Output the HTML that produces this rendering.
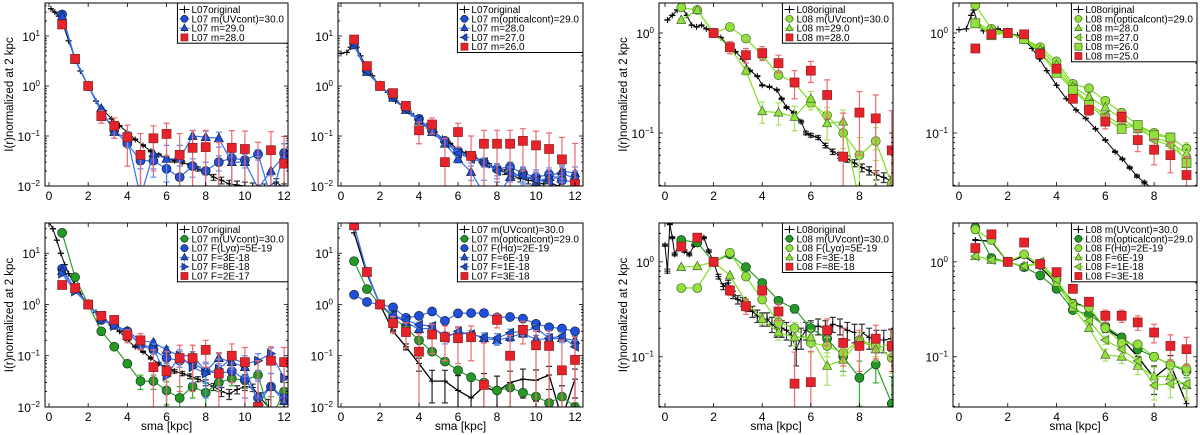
<!DOCTYPE html>
<html><head><meta charset="utf-8">
<style>
html,body{margin:0;padding:0;background:#fff;width:1200px;height:435px;overflow:hidden;}
svg{display:block;font-family:"Liberation Sans",sans-serif;}
</style></head>
<body>
<svg id="fig" width="1200" height="435" viewBox="0 0 1200 435"></svg>
<script>
// ---------- DATA ----------
const xs18 = [0.67,1.33,2,2.67,3.33,4,4.67,5.33,6,6.67,7.33,8,8.67,9.33,10,10.67,11.33,12];
const xs14 = [0.67,1.33,2,2.67,3.33,4,4.67,5.33,6,6.67,7.33,8,8.67,9.33];

// Panel 1 (L07 UV)
const p1OrigX = [0.1,0.3,0.5,0.7,1,1.33,1.6,2,2.4,2.8,3.2,3.6,4,4.4,4.8,5.2,5.6,6,6.4,6.8,7.2,7.6,8,8.4,8.8,9.2,9.6,10,10.4,11,11.6,12];
const p1OrigY = [35,30,25,18,8,3.5,2,1,0.5,0.32,0.22,0.16,0.12,0.085,0.065,0.05,0.042,0.036,0.032,0.03,0.026,0.022,0.019,0.015,0.013,0.011,0.0105,0.01,0.0095,0.009,0.012,0.009];
const p1UV  = [27,3.5,1,0.3,0.13,0.07,0.032,0.032,0.022,0.015,0.025,0.02,0.03,0.036,0.033,0.043,0.006,0.045];
const p1M29 = [25,3.3,1,0.35,0.12,0.09,0.006,0.045,0.035,0.035,0.1,0.095,0.09,0.03,0.03,0.009,0.02,0.04];
const p1M28 = [17,3.5,1,0.25,0.16,0.095,0.042,0.09,0.11,0.042,0.058,0.06,0.005,0.058,0.055,0.005,0.052,0.028];

// Panel 2 (L07 optical)
const p2OrigX = [0,0.3,0.5,0.6,0.8,1,1.33,1.6,2,2.4,2.8,3.2,3.6,4,4.4,4.8,5.2,5.6,6,6.4,6.8,7.2,7.6,8,8.4,8.8,9.2,9.6,10,10.4,10.8,11.2,12];
const p2OrigY = [4.5,4.7,6,9,6,4,2.3,1.6,1,0.75,0.5,0.37,0.28,0.2,0.16,0.12,0.09,0.07,0.055,0.045,0.04,0.032,0.026,0.022,0.019,0.016,0.014,0.013,0.012,0.011,0.011,0.01,0.01];
const p2M29 = [7,2,1,0.6,0.35,0.22,0.13,0.08,0.05,0.04,0.03,0.022,0.024,0.018,0.015,0.017,0.013,0.012];
const p2M28 = [6.5,1.9,1,0.58,0.33,0.2,0.12,0.07,0.035,0.019,0.007,0.006,0.015,0.017,0.012,0.015,0.02,0.018];
const p2M27 = [7,2,1,0.62,0.34,0.21,0.12,0.075,0.045,0.035,0.03,0.02,0.018,0.016,0.013,0.012,0.018,0.014];
const p2M26 = [8.5,2.5,1,0.72,0.4,0.13,0.17,0.03,0.12,0.04,0.07,0.07,0.07,0.08,0.065,0.055,0.034,0.011];

// Panel 3 (L08 UV)
const p3OrigX = [0.1,0.3,0.5,0.7,0.9,1.1,1.3,1.5,1.7,2,2.3,2.6,2.9,3.2,3.5,3.8,4,4.3,4.6,4.8,5,5.3,5.6,5.8,6,6.3,6.6,6.9,7.2,7.5,7.8,8.1,8.4,8.7,9,9.3,9.6];
const p3OrigY = [1.35,1.5,1.7,1.8,1.5,1.2,1.15,1.2,1.1,1,0.9,0.75,0.65,0.55,0.42,0.37,0.3,0.29,0.27,0.22,0.18,0.16,0.13,0.1,0.095,0.09,0.075,0.065,0.06,0.055,0.05,0.045,0.042,0.038,0.036,0.033,0.03];
const p3UV  = [1.8,1.7,1,1.15,0.88,0.6,0.38,0.32,0.2,0.15,0.1,0.06,0.083,0.031];
const p3M29 = [1.35,1.7,1,0.72,0.42,0.165,0.16,0.145,0.22,0.125,0.13,0.02,0.028,0.03];
const p3M28 = [null,null,1,0.72,0.6,0.63,0.5,0.32,0.42,0.24,0.058,0.16,0.14,0.067];

// Panel 4 (L08 optical)
const p4OrigX = [0,0.3,0.5,0.6,0.8,1,1.3,1.6,2,2.4,2.7,3,3.3,3.6,4,4.4,4.8,5.2,5.6,6,6.4,6.7,7,7.3,7.6,8,8.4,8.8,9.6];
const p4OrigY = [1.08,1.1,1.5,1.7,1.2,1.05,1.08,1.1,1,0.95,0.85,0.7,0.55,0.42,0.3,0.22,0.17,0.14,0.11,0.085,0.065,0.055,0.045,0.037,0.032,0.027,0.023,0.02,0.017];
const p4M29 = [1.9,1.1,1,0.88,0.72,0.52,0.31,0.28,0.21,0.16,0.12,0.1,0.09,0.07];
const p4M28 = [1.3,1.05,1,0.88,0.68,0.48,0.29,0.23,0.18,0.14,0.11,0.09,0.08,0.062];
const p4M27 = [1.25,1.0,1,0.86,0.65,0.43,0.28,0.2,0.15,0.12,0.12,0.085,0.075,0.055];
const p4M26 = [1.25,0.95,1,0.87,0.63,0.4,0.27,0.19,0.14,0.11,0.12,0.095,0.09,0.05];
const p4M25 = [0.7,0.97,1,0.97,0.62,0.44,0.22,0.17,0.13,0.145,0.085,0.068,0.06,0.038];

// Panel 5 (L07 Lya)
const p5OrigX = [0,0.2,0.4,0.6,0.8,1,1.3,1.6,2,2.4,2.8,3.2,3.6,4,4.4,4.8,5.2,5.6,6,6.4,6.8,7.2,7.6,8,8.4,8.8,9.2,9.6,10,10.4,10.8,11.2];
const p5OrigY = [40,30,18,10,6,4,2.5,1.6,1,0.7,0.5,0.4,0.3,0.2,0.15,0.12,0.09,0.07,0.06,0.05,0.045,0.04,0.035,0.03,0.025,0.02,0.018,0.022,0.025,0.024,0.015,0.01];
const p5UV   = [25,3.4,1,0.3,0.15,0.07,0.032,0.032,0.021,0.015,0.025,0.019,0.03,0.036,0.033,0.042,0.006,0.02];
const p5F5   = [5,2,1,0.5,0.4,0.3,0.16,0.13,0.09,0.08,0.075,0.05,0.045,0.05,0.035,0.015,0.025,0.015];
const p5F3   = [4.5,2,1,0.55,0.4,0.3,0.2,0.18,0.13,0.1,0.1,0.05,0.09,0.075,0.06,0.012,0.025,0.013];
const p5F8   = [4,1.8,1,0.5,0.38,0.28,0.17,0.14,0.04,0.1,0.06,0.045,0.055,0.09,0.07,0.08,0.11,0.037];
const p5F2   = [2.4,2.1,1,0.6,0.5,0.25,0.2,0.06,0.05,0.09,0.09,0.13,0.045,0.1,0.075,0.01,0.08,0.075];

// Panel 6 (L07 Halpha)
const p6UV   = [25,4,1,0.3,0.15,0.07,0.032,0.032,0.021,0.015,0.025,0.02,0.03,0.035,0.033,0.042,0.006,0.035];
const p6Opt  = [7,2,1,0.55,0.35,0.2,0.12,0.077,0.052,0.038,0.03,0.021,0.024,0.019,0.016,0.012,0.016,0.01];
const p6F2   = [1.55,1.12,1,0.88,0.55,0.6,0.73,0.48,0.67,0.68,0.68,0.56,0.57,0.53,0.42,0.36,0.34,0.3];
const p6F6   = [35,4.3,1,0.62,0.45,0.33,0.35,0.25,0.27,0.27,0.22,0.2,0.23,0.27,0.21,0.21,0.22,0.2];
const p6F1   = [35,4.3,1,0.62,0.5,0.4,0.38,0.22,0.3,0.26,0.23,0.22,0.28,0.3,0.35,0.22,0.24,0.15];
const p6F3   = [35,4.3,1,0.43,0.29,0.12,0.26,0.23,0.22,0.23,0.027,0.5,0.1,0.32,0.16,0.155,0.052,0.083];

// Panel 7 (L08 Lya)
const p7OrigX = [0,0.1,0.2,0.3,0.4,0.6,0.8,1,1.2,1.4,1.6,1.8,2,2.2,2.4,2.6,2.8,3,3.2,3.4,3.6,3.8,4,4.2,4.4,4.6,4.8,5,5.2,5.4,5.6,5.8,6,6.3,6.6,6.9,7.2,7.5,7.8,8.1,8.4,8.7,9,9.3,9.6];
const p7OrigY = [1.5,0.8,2.5,1.8,1.2,1.6,1.3,1.2,1.5,1.6,1.8,1.3,1,0.7,0.55,0.6,0.45,0.4,0.38,0.34,0.3,0.27,0.25,0.25,0.22,0.2,0.2,0.19,0.17,0.12,0.16,0.19,0.2,0.21,0.2,0.22,0.21,0.19,0.18,0.18,0.16,0.15,0.15,0.155,0.15];
const p7UV  = [1.7,1.6,1,1.2,0.88,0.6,0.39,0.32,0.2,0.155,0.1,0.06,0.083,0.032];
const p7F5  = [0.53,0.53,1,1.25,0.7,0.4,0.23,0.2,0.14,0.13,0.11,0.15,0.13,0.097];
const p7F3  = [0.88,0.9,1,0.72,0.38,0.25,0.18,0.16,0.16,0.08,0.093,0.15,0.12,0.14];
const p7F8  = [1.45,1.8,1,0.5,0.34,0.5,0.3,0.052,0.054,0.19,0.14,0.13,0.155,0.13];

// Panel 8 (L08 Halpha)
const p8UV  = [1.7,1.65,1,1.15,0.88,0.6,0.38,0.32,0.2,0.155,0.1,0.06,0.083,0.032];
const p8Opt = [2.3,1.1,1,0.88,0.72,0.52,0.31,0.28,0.21,0.16,0.12,0.1,0.083,0.07];
const p8F2  = [2.2,1.7,1,1.2,0.93,0.65,0.36,0.33,0.2,0.14,0.135,0.1,0.082,0.075];
const p8F6  = [1.15,1.05,1,0.9,0.95,0.6,0.33,0.2,0.105,0.1,0.08,0.062,0.062,0.05];
const p8F1  = [1.15,1.05,1,0.9,1.0,0.65,0.35,0.24,0.15,0.12,0.09,0.05,0.052,0.052];
const p8F3  = [1.4,1.95,1,1.6,0.95,0.78,0.52,0.38,0.27,0.27,0.23,0.18,0.13,0.12];

const ticksL07 = [0,2,4,6,8,10,12];
const ticksL08 = [0,2,4,6,8];

// ---------- STYLES ----------
const BLUE='#1f4fdc', BLUEL='#3a6ef0', RED='#e8222a', REDE='#ee6a70', LG='#93e03a', LGL='#7ee020', DG='#249a24', BLK='#000';

const svg=document.getElementById('fig');
const NS='http://www.w3.org/2000/svg';
function el(tag,attrs,parent){const e=document.createElementNS(NS,tag);for(const k in attrs)e.setAttribute(k,attrs[k]);(parent||svg).appendChild(e);return e;}

function marker(g,type,cx,cy,fill,stroke,r){
  r=r||4.5;
  let m;
  if(type==='o') m=el('circle',{cx:cx,cy:cy,r:r,fill:fill,stroke:stroke,'stroke-width':0.7},g);
  else if(type==='s') m=el('rect',{x:cx-r,y:cy-r,width:2*r,height:2*r,fill:fill,stroke:stroke,'stroke-width':0.7},g);
  else if(type==='^') m=el('polygon',{points:`${cx},${cy-r-0.5} ${cx-r},${cy+r-1} ${cx+r},${cy+r-1}`,fill:fill,stroke:stroke,'stroke-width':0.7},g);
  else if(type==='<') m=el('polygon',{points:`${cx-r},${cy} ${cx+r-1},${cy-r} ${cx+r-1},${cy+r}`,fill:fill,stroke:stroke,'stroke-width':0.7},g);
  else if(type==='>') m=el('polygon',{points:`${cx+r},${cy} ${cx-r+1},${cy-r} ${cx-r+1},${cy+r}`,fill:fill,stroke:stroke,'stroke-width':0.7},g);
  else if(type==='+'){ m=el('path',{d:`M${cx-3},${cy}H${cx+3}M${cx},${cy-3}V${cy+3}`,stroke:fill,'stroke-width':1},g);}
  return m;
}

function panel(cfg){
  const g=el('g',{});
  
  
  const {L,R,T,B,x0,x1,y0,y1}=cfg;
  const sx=v=>L+(v-x0)/(x1-x0)*(R-L);
  const syRaw=v=>B-(Math.log10(v)-y0)/(y1-y0)*(B-T);
  const sy=v=>Math.max(T-8,Math.min(B+6,syRaw(v)));
  const clip='c'+cfg.name;
  const d=el('defs',{},g); const cp=el('clipPath',{id:clip},d); el('rect',{x:L,y:T,width:R-L,height:B-T},cp);
  const plot=el('g',{'clip-path':`url(#${clip})`},g);
  cfg.series.forEach(s=>{
    const sg=el('g',{},plot);
    
    
    const X=s.x, Y=s.y;
    if(s.sig){
      X.forEach((xv,i)=>{const yv=Y[i]; if(yv==null)return;
        const hi=yv+s.sig, lo=yv-s.sig;
        const y1p=sy(hi), y2p=lo>0?sy(lo):B+1; const cx=sx(xv);
        el('path',{d:`M${cx},${y1p}V${y2p}M${cx-3},${y1p}H${cx+3}M${cx-3},${y2p}H${cx+3}`,stroke:s.ec,'stroke-width':1.2},sg);
      });
    }
    if(s.line){
      let pts=[];X.forEach((xv,i)=>{if(Y[i]!=null)pts.push(sx(xv).toFixed(1)+','+syRaw(Y[i]).toFixed(1));});
      el('polyline',{points:pts.join(' '),fill:'none',stroke:s.lc,'stroke-width':s.lw||1.2},sg);
    }
    X.forEach((xv,i)=>{if(Y[i]==null)return; const yy=syRaw(Y[i]); if(yy>B+6||yy<T-8)return; marker(sg,s.m,sx(xv),yy,s.fc,s.mec||'#222',s.r);});
  });
  el('rect',{x:L,y:T,width:R-L,height:B-T,fill:'none',stroke:'#000','stroke-width':1},g);
  cfg.xt.forEach(t=>{const x=sx(t);
    el('path',{d:`M${x},${B}V${B-4}M${x},${T}V${T+4}`,stroke:'#000','stroke-width':0.8},g);
    const tx=el('text',{x:x,y:B+14,'font-size':12,'text-anchor':'middle',fill:'#000'},g);tx.textContent=t;
    
  });
  for(let e=Math.floor(cfg.y0);e<=Math.ceil(cfg.y1);e++){
    for(let k=1;k<10;k++){const v=Math.log10(k)+e; if(v<cfg.y0-1e-6||v>cfg.y1+1e-6)continue;
      const y=syRaw(Math.pow(10,v)); const len=k===1?4:2;
      el('path',{d:`M${L},${y}H${L+len}M${R},${y}H${R-len}`,stroke:'#000','stroke-width':0.8},g);
      if(k===1){const tx=el('text',{x:L-5,y:y+5,'font-size':12,'text-anchor':'end',fill:'#000'},g);
        
        const a=el('tspan',{},tx);a.textContent='10';const b=el('tspan',{dy:-5,'font-size':8},tx);b.textContent=String(e).replace('-','\u2212');}
    }
  }
  if(cfg.ylab){const tx=el('text',{x:0,y:0,'font-size':11.5,'text-anchor':'middle',transform:`translate(${cfg.ylabX},${(T+B)/2}) rotate(-90)`},g);tx.textContent='I(r)normalized at 2 kpc';
    }
  if(cfg.xlab){const tx=el('text',{x:(L+R)/2,y:B+23,'font-size':12,'text-anchor':'middle'},g);tx.textContent='sma [kpc]';
    }
  const lg=el('g',{},g);
  
  
  const box=el('rect',{x:0,y:T,width:10,height:cfg.series.length*9.3+3,fill:'#fff',stroke:'#000','stroke-width':1},lg);
  let maxw=0; const items=[];
  cfg.series.forEach((s,i)=>{const it=el('g',{},lg);
    
    
    const t=el('text',{x:0,y:T+10+i*9.3,'font-size':10,fill:'#000'},it);t.textContent=s.label;
    maxw=Math.max(maxw,t.getComputedTextLength());items.push([it,t,s,i]);});
  const bx=R-maxw-18;
  box.setAttribute('x',bx);box.setAttribute('width',R-bx);
  items.forEach(([it,t,s,i])=>{t.setAttribute('x',bx+14);const cy=T+6.5+i*9.3;
    if(s.line) el('path',{d:`M${bx+2},${cy}H${bx+12}`,stroke:s.lc,'stroke-width':1},it);
    if(s.sig) el('path',{d:`M${bx+7},${cy-4}V${cy+4}`,stroke:s.ec,'stroke-width':1},it);
    marker(it,s.m,bx+7,cy,s.fc,s.mec||'#222',3.5);});
}

function orig(x,y,lab,sig){return {dn:'series-original',label:lab,x:x,y:y,m:'+',fc:BLK,line:true,lc:BLK,lw:1,sig:sig,ec:'#333'};}
const colStd=[-0.204,12.2], colL08=[-0.246,9.38], colL08b=[-0.246,9.76];

panel({name:'panel-l07-uv',L:45,R:288,T:3,B:186,x0:colStd[0],x1:colStd[1],y0:-2,y1:1.66,xt:ticksL07,ylab:true,ylabX:13,series:[
  orig(p1OrigX,p1OrigY,'L07original',0.002),
  {dn:'series-uvcont',label:'L07 m(UVcont)=30.0',x:xs18,y:p1UV,m:'o',fc:BLUE,mec:'#123',line:true,lc:BLUEL,sig:0.01,ec:'#5a8af0'},
  {dn:'series-m29',label:'L07 m=29.0',x:xs18,y:p1M29,m:'^',fc:BLUE,mec:'#123',line:true,lc:BLUEL,sig:0.03,ec:'#5a8af0'},
  {dn:'series-m28',label:'L07 m=28.0',x:xs18,y:p1M28,m:'s',fc:RED,mec:'#822',line:false,sig:0.07,ec:REDE}]});

panel({name:'panel-l07-optical',L:338,R:583,T:3,B:186,x0:-0.154,x1:12.41,y0:-2,y1:1.66,xt:ticksL07,series:[
  orig(p2OrigX,p2OrigY,'L07original',0.002),
  {dn:'series-opticalcont',label:'L07 m(opticalcont)=29.0',x:xs18,y:p2M29,m:'o',fc:BLUE,mec:'#123',line:true,lc:BLUEL,sig:0.006,ec:'#5a8af0'},
  {dn:'series-m28',label:'L07 m=28.0',x:xs18,y:p2M28,m:'^',fc:BLUE,mec:'#123',line:true,lc:BLUEL,sig:0.006,ec:'#5a8af0'},
  {dn:'series-m27',label:'L07 m=27.0',x:xs18,y:p2M27,m:'<',fc:BLUE,mec:'#123',line:true,lc:BLUEL,sig:0.006,ec:'#5a8af0'},
  {dn:'series-m26',label:'L07 m=26.0',x:xs18,y:p2M26,m:'s',fc:RED,mec:'#822',line:false,sig:0.06,ec:REDE}]});

panel({name:'panel-l08-uv',L:659,R:893,T:3,B:186,x0:colL08[0],x1:colL08[1],y0:-1.53,y1:0.3,xt:ticksL08,ylab:true,ylabX:627,series:[
  orig(p3OrigX,p3OrigY,'L08original',0.004),
  {dn:'series-uvcont',label:'L08 m(UVcont)=30.0',x:xs14,y:p3UV,m:'o',fc:LG,mec:'#463',line:true,lc:LGL,sig:0.03,ec:'#a8e060'},
  {dn:'series-m29',label:'L08 m=29.0',x:xs14,y:p3M29,m:'^',fc:LG,mec:'#463',line:true,lc:LGL,sig:0.04,ec:'#a8e060'},
  {dn:'series-m28',label:'L08 m=28.0',x:xs14,y:p3M28,m:'s',fc:RED,mec:'#822',line:false,sig:0.1,ec:REDE}]});

panel({name:'panel-l08-optical',L:953,R:1197,T:3,B:186,x0:colL08b[0],x1:colL08b[1],y0:-1.53,y1:0.3,xt:ticksL08,series:[
  orig(p4OrigX,p4OrigY,'L08original',0.001),
  {dn:'series-opticalcont',label:'L08 m(opticalcont)=29.0',x:xs14,y:p4M29,m:'o',fc:LG,mec:'#463',line:true,lc:LGL,sig:0.01,ec:'#a8e060'},
  {dn:'series-m28',label:'L08 m=28.0',x:xs14,y:p4M28,m:'^',fc:LG,mec:'#463',line:true,lc:LGL,sig:0.01,ec:'#a8e060'},
  {dn:'series-m27',label:'L08 m=27.0',x:xs14,y:p4M27,m:'<',fc:LG,mec:'#463',line:true,lc:LGL,sig:0.01,ec:'#a8e060'},
  {dn:'series-m26',label:'L08 m=26.0',x:xs14,y:p4M26,m:'s',fc:LG,mec:'#463',line:true,lc:LGL,sig:0.01,ec:'#a8e060'},
  {dn:'series-m25',label:'L08 m=25.0',x:xs14,y:p4M25,m:'s',fc:RED,mec:'#822',line:false,sig:0.02,ec:REDE}]});

panel({name:'panel-l07-lya',L:45,R:288,T:223,B:407,x0:colStd[0],x1:colStd[1],y0:-2,y1:1.59,xt:ticksL07,ylab:true,ylabX:13,xlab:true,series:[
  orig(p5OrigX,p5OrigY,'L07original',0.004),
  {dn:'series-uvcont',label:'L07 m(UVcont)=30.0',x:xs18,y:p5UV,m:'o',fc:DG,mec:'#132',line:true,lc:'#2aa02a',sig:0.01,ec:'#3aaa3a'},
  {dn:'series-lya-5e-19',label:'L07 F(Ly\u03b1)=5E-19',x:xs18,y:p5F5,m:'o',fc:BLUE,mec:'#123',line:true,lc:BLUEL,sig:0.02,ec:'#5a8af0'},
  {dn:'series-f-3e-18',label:'L07 F=3E-18',x:xs18,y:p5F3,m:'^',fc:BLUE,mec:'#123',line:true,lc:BLUEL,sig:0.02,ec:'#5a8af0'},
  {dn:'series-f-8e-18',label:'L07 F=8E-18',x:xs18,y:p5F8,m:'>',fc:BLUE,mec:'#123',line:true,lc:BLUEL,sig:0.03,ec:'#5a8af0'},
  {dn:'series-f-2e-17',label:'L07 F=2E-17',x:xs18,y:p5F2,m:'s',fc:RED,mec:'#822',line:false,sig:0.07,ec:REDE}]});

panel({name:'panel-l07-halpha',L:338,R:583,T:223,B:407,x0:-0.154,x1:12.41,y0:-2,y1:1.59,xt:ticksL07,xlab:true,series:[
  {dn:'series-uvcont',label:'L07 m(UVcont)=30.0',x:xs18,y:p6UV,m:'+',fc:BLK,line:true,lc:BLK,lw:1.3,sig:0.02,ec:'#222'},
  {dn:'series-opticalcont',label:'L07 m(opticalcont)=29.0',x:xs18,y:p6Opt,m:'o',fc:DG,mec:'#132',line:true,lc:'#2aa02a',sig:0.002,ec:'#3aaa3a'},
  {dn:'series-halpha-2e-19',label:'L07 F(H\u03b1)=2E-19',x:xs18,y:p6F2,m:'o',fc:BLUE,mec:'#123',line:true,lc:BLUEL,sig:0.03,ec:'#5a8af0'},
  {dn:'series-f-6e-19',label:'L07 F=6E-19',x:xs18,y:p6F6,m:'^',fc:BLUE,mec:'#123',line:true,lc:BLUEL,sig:0.04,ec:'#5a8af0'},
  {dn:'series-f-1e-18',label:'L07 F=1E-18',x:xs18,y:p6F1,m:'<',fc:BLUE,mec:'#123',line:true,lc:BLUEL,sig:0.05,ec:'#5a8af0'},
  {dn:'series-f-3e-18',label:'L07 F=3E-18',x:xs18,y:p6F3,m:'s',fc:RED,mec:'#822',line:false,sig:0.15,ec:REDE}]});

panel({name:'panel-l08-lya',L:659,R:893,T:223,B:407,x0:colL08[0],x1:colL08[1],y0:-1.53,y1:0.41,xt:ticksL08,ylab:true,ylabX:627,xlab:true,series:[
  orig(p7OrigX,p7OrigY,'L08original',0.04),
  {dn:'series-uvcont',label:'L08 m(UVcont)=30.0',x:xs14,y:p7UV,m:'o',fc:DG,mec:'#132',line:true,lc:'#2aa02a',sig:0.03,ec:'#3aaa3a'},
  {dn:'series-lya-5e-19',label:'L08 F(Ly\u03b1)=5E-19',x:xs14,y:p7F5,m:'o',fc:LG,mec:'#463',line:true,lc:LGL,sig:0.03,ec:'#a8e060'},
  {dn:'series-f-3e-18',label:'L08 F=3E-18',x:xs14,y:p7F3,m:'^',fc:LG,mec:'#463',line:true,lc:LGL,sig:0.03,ec:'#a8e060'},
  {dn:'series-f-8e-18',label:'L08 F=8E-18',x:xs14,y:p7F8,m:'s',fc:RED,mec:'#822',line:false,sig:0.06,ec:REDE}]});

panel({name:'panel-l08-halpha',L:953,R:1197,T:223,B:407,x0:colL08b[0],x1:colL08b[1],y0:-1.53,y1:0.41,xt:ticksL08,xlab:true,series:[
  {dn:'series-uvcont',label:'L08 m(UVcont)=30.0',x:xs14,y:p8UV,m:'+',fc:BLK,line:true,lc:BLK,lw:1.3,sig:0.02,ec:'#222'},
  {dn:'series-opticalcont',label:'L08 m(opticalcont)=29.0',x:xs14,y:p8Opt,m:'o',fc:DG,mec:'#132',line:true,lc:'#2aa02a',sig:0.01,ec:'#3aaa3a'},
  {dn:'series-halpha-2e-19',label:'L08 F(H\u03b1)=2E-19',x:xs14,y:p8F2,m:'o',fc:LG,mec:'#463',line:true,lc:LGL,sig:0.01,ec:'#a8e060'},
  {dn:'series-f-6e-19',label:'L08 F=6E-19',x:xs14,y:p8F6,m:'^',fc:LG,mec:'#463',line:true,lc:LGL,sig:0.015,ec:'#a8e060'},
  {dn:'series-f-1e-18',label:'L08 F=1E-18',x:xs14,y:p8F1,m:'<',fc:LG,mec:'#463',line:true,lc:LGL,sig:0.015,ec:'#a8e060'},
  {dn:'series-f-3e-18',label:'L08 F=3E-18',x:xs14,y:p8F3,m:'s',fc:RED,mec:'#822',line:false,sig:0.04,ec:REDE}]});
</script>
</body></html>
